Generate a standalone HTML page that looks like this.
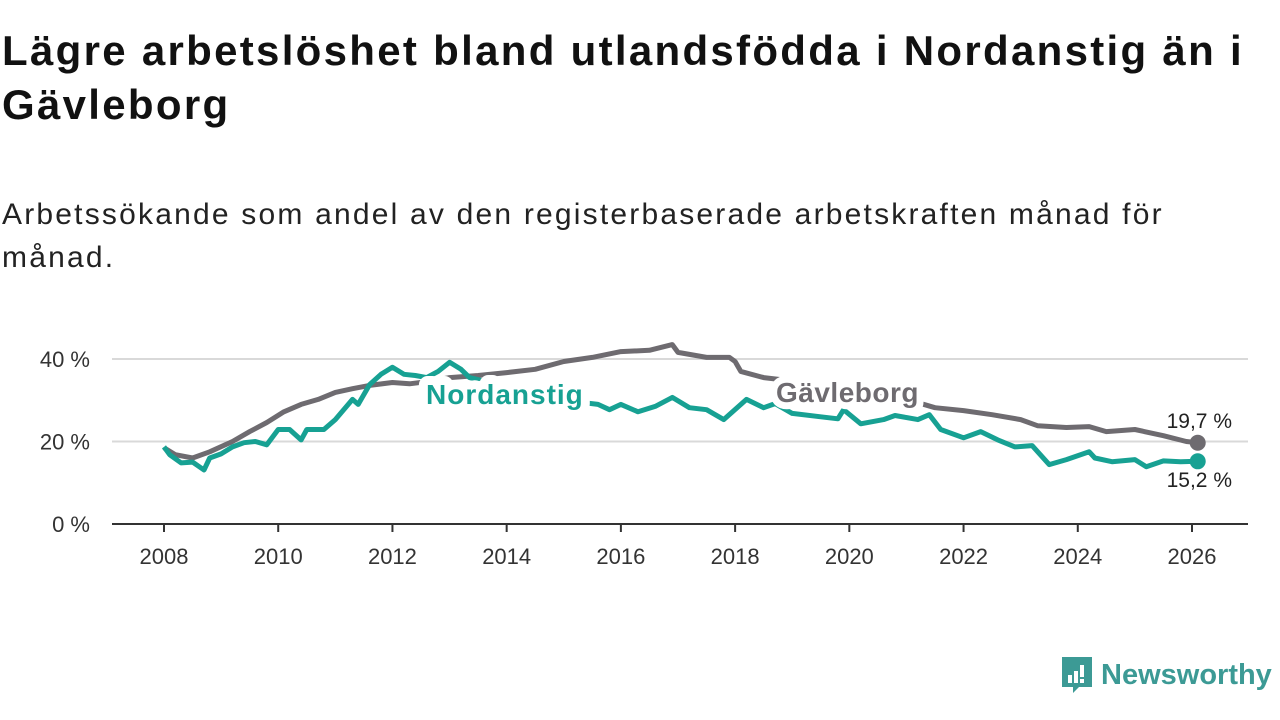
<!DOCTYPE html>
<html><head><meta charset="utf-8"><style>
body{margin:0;width:1280px;height:720px;background:#fff;font-family:"Liberation Sans",sans-serif;overflow:hidden;position:relative}
h1{position:absolute;left:2px;top:24px;margin:0;font-size:42px;letter-spacing:2.3px;line-height:54px;font-weight:bold;color:#111;width:1265px}
p{position:absolute;left:2px;top:193px;margin:0;font-size:30px;letter-spacing:2.2px;line-height:43px;color:#222;width:1220px}
svg{position:absolute;left:0;top:0}
</style></head><body>
<h1>Lägre arbetslöshet bland utlandsfödda i Nordanstig än i Gävleborg</h1>
<p>Arbetssökande som andel av den registerbaserade arbetskraften månad för månad.</p>
<svg id="chart" width="1280" height="720"></svg>
<script>
const yTicks=[0,20,40];
const xTicks=[2008,2010,2012,2014,2016,2018,2020,2022,2024,2026];
const gavX=[2008.0,2008.2,2008.5,2008.8,2009.2,2009.5,2009.8,2010.1,2010.4,2010.7,2011.0,2011.3,2011.6,2012.0,2012.3,2012.6,2013.0,2013.5,2014.0,2014.5,2015.0,2015.5,2016.0,2016.5,2016.9,2017.0,2017.5,2017.9,2018.0,2018.1,2018.5,2018.8,2019.4,2020.0,2020.6,2021.2,2021.5,2022.0,2022.5,2023.0,2023.3,2023.8,2024.2,2024.5,2025.0,2025.5,2025.9,2026.1];
const gavY=[18.5,16.8,16,17.5,20,22.4,24.6,27.2,29,30.2,31.9,32.8,33.6,34.3,34,34.5,35.5,36,36.7,37.5,39.4,40.4,41.8,42.1,43.5,41.6,40.4,40.4,39.4,37,35.5,35,33.5,32,30.8,29.4,28.2,27.5,26.5,25.3,23.8,23.4,23.6,22.4,22.9,21.4,20,19.7];
const norX=[2008.0,2008.1,2008.3,2008.5,2008.7,2008.8,2009.0,2009.2,2009.4,2009.6,2009.8,2010.0,2010.2,2010.4,2010.5,2010.8,2011.0,2011.3,2011.4,2011.6,2011.8,2012.0,2012.2,2012.4,2012.6,2012.8,2013.0,2013.2,2013.35,2013.8,2014.3,2014.8,2015.3,2015.6,2015.8,2016.0,2016.3,2016.6,2016.9,2017.2,2017.5,2017.8,2018.2,2018.5,2018.7,2019.0,2019.5,2019.8,2019.9,2020.2,2020.6,2020.8,2021.2,2021.4,2021.6,2022.0,2022.3,2022.6,2022.9,2023.2,2023.5,2023.8,2024.2,2024.3,2024.6,2025.0,2025.2,2025.5,2025.8,2026.1];
const norY=[18.7,16.8,14.8,15,13.1,16,17,18.7,19.7,20,19.2,22.9,22.9,20.4,22.9,22.9,25.3,30.2,29,33.8,36.3,38,36.3,36,35.5,37,39.2,37.5,35.5,34,32,30.5,29.5,29,27.7,29,27.2,28.5,30.7,28.2,27.7,25.3,30.2,28.2,29.2,26.8,26,25.5,27.7,24.3,25.3,26.3,25.3,26.5,22.9,20.9,22.4,20.4,18.7,19,14.4,15.6,17.5,16,15.1,15.6,13.9,15.3,15.1,15.2];
const NS="http://www.w3.org/2000/svg";
const svg=document.getElementById('chart');
const X=v=>164+(v-2008)*(1192-164)/18;
const Y=v=>524-v*(524-359)/40;
function mk(t,a,txt){const e=document.createElementNS(NS,t);for(const k in a)e.setAttribute(k,a[k]);if(txt!==undefined)e.textContent=txt;svg.appendChild(e);return e;}
yTicks.forEach(t=>{
  if(t>0){const g=mk('line',{x1:112,x2:1248,y1:Y(t),y2:Y(t),stroke:'#d9d9d9','stroke-width':2});
  
  }
  const l=mk('text',{x:90,y:Y(t)+8,'text-anchor':'end','font-size':22,fill:'#333'},t+' %');
  
  
});
const ax=mk('line',{x1:112,x2:1248,y1:524,y2:524,stroke:'#333','stroke-width':2});


xTicks.forEach(t=>{
  const tk=mk('line',{x1:X(t),x2:X(t),y1:524,y2:532,stroke:'#333','stroke-width':2});
  
  
  const l=mk('text',{x:X(t),y:564,'text-anchor':'middle','font-size':22,fill:'#333'},t);
  
  
});
function line(xs,ys,col,name){
  const d=xs.map((x,i)=>(i?'L':'M')+X(x).toFixed(1)+','+Y(ys[i]).toFixed(1)).join('');
  const p=mk('path',{d:d,fill:'none',stroke:col,'stroke-width':5,'stroke-linejoin':'round'});
  
  
  const c=mk('circle',{cx:X(xs[xs.length-1]),cy:Y(ys[ys.length-1]),r:8,fill:col});
  
  
}
line(gavX,gavY,'#6e6b70','gavleborg-line');
line(norX,norY,'#17a193','nordanstig-line');
const a=mk('text',{x:426,y:404,'font-size':28,'letter-spacing':1,'font-weight':'bold',fill:'#17a193',stroke:'#fff','stroke-width':18,'paint-order':'stroke','stroke-linejoin':'round'},'Nordanstig');


const b=mk('text',{x:776,y:402,'font-size':28,'letter-spacing':0.5,'font-weight':'bold',fill:'#6e6b70',stroke:'#fff','stroke-width':14,'paint-order':'stroke','stroke-linejoin':'round'},'Gävleborg');


const v1=mk('text',{x:1232,y:428,'text-anchor':'end','font-size':21,fill:'#222'},'19,7 %');


const v2=mk('text',{x:1232,y:487,'text-anchor':'end','font-size':21,fill:'#222'},'15,2 %');


</script>
<div style="position:absolute;left:1059px;top:655px;height:40px;display:flex;align-items:center">
<svg width="36" height="40" viewBox="0 0 36 40" style="position:static"><path d="M3 2h30v30H20l-6 6v-6H3z" fill="#3c9a95"/><rect x="9" y="20" width="4" height="8" fill="#fff"/><rect x="15" y="16" width="4" height="12" fill="#fff"/><rect x="21" y="10" width="4" height="12" fill="#fff"/><rect x="21" y="24" width="4" height="4" fill="#fff"/></svg>
<span style="font-size:29px;font-weight:bold;color:#3c9a95;margin-left:6px">Newsworthy</span></div>
</body></html>
